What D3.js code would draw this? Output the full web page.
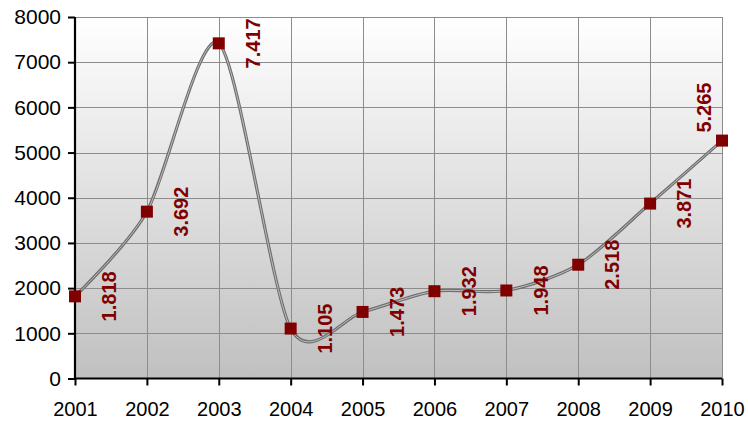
<!DOCTYPE html>
<html><head><meta charset="utf-8">
<script src="https://cdn.jsdelivr.net/npm/d3@7"></script>
<style>body{margin:0;background:#fff}svg{display:block}</style>
</head><body>
<svg id="c" width="748" height="422"></svg>
<script>
const years = ["2001","2002","2003","2004","2005","2006","2007","2008","2009","2010"];
const values = [1818, 3692, 7417, 1105, 1473, 1932, 1948, 2518, 3871, 5265];
const yTicks = [0,1000,2000,3000,4000,5000,6000,7000,8000];

const W = 748, H = 422;
const m = {left:75, right:26, top:17, bottom:43.5};
const svg = d3.select("#c");
const x = d3.scalePoint().domain(years).range([m.left, W - m.right]);
const y = d3.scaleLinear().domain([0, 8000]).range([H - m.bottom, m.top]);

const defs = svg.append("defs");
const g = defs.append("linearGradient").attr("id","bg").attr("x1",0).attr("y1",0).attr("x2",0).attr("y2",1);
g.append("stop").attr("offset","0%").attr("stop-color","#ffffff");
g.append("stop").attr("offset","100%").attr("stop-color","#c0c0c0");

svg.append("rect").attr("x", m.left).attr("y", m.top)
  .attr("width", W - m.right - m.left).attr("height", H - m.bottom - m.top)
  .attr("fill","url(#bg)");

// grid
svg.append("g").selectAll("line").data(yTicks.slice(1)).join("line")
  .attr("x1", m.left).attr("x2", W - m.right)
  .attr("y1", d => Math.round(y(d)) + 0.5).attr("y2", d => Math.round(y(d)) + 0.5)
  .attr("stroke","#8c8c8c").attr("stroke-width",1);
svg.append("g").selectAll("line").data(years.slice(1)).join("line")
  .attr("x1", d => Math.round(x(d)) + 0.5).attr("x2", d => Math.round(x(d)) + 0.5)
  .attr("y1", m.top).attr("y2", H - m.bottom)
  .attr("stroke","#8c8c8c").attr("stroke-width",1);

// axes
const yAxis = svg.append("g").attr("transform",`translate(${m.left},0)`)
  .call(d3.axisLeft(y).tickValues(yTicks).tickSize(7).tickPadding(7).tickFormat(d3.format("d")));
const xAxis = svg.append("g").attr("transform",`translate(0,${H - m.bottom})`)
  .call(d3.axisBottom(x).tickSize(7).tickPadding(16));
[yAxis, xAxis].forEach(a => {
  a.select(".domain").attr("stroke","#000").attr("stroke-width",2.2);
  a.selectAll(".tick line").attr("stroke","#000").attr("stroke-width",2);
  a.selectAll("text").attr("font-family","Liberation Sans, Arial, sans-serif")
    .attr("font-size",20).attr("fill","#000");
});
yAxis.selectAll("text").attr("font-size",21);
yAxis.select(".domain").attr("d", `M0,${m.top}V${H - m.bottom}`);
xAxis.select(".domain").attr("d", `M${m.left},0H${W - m.right}`);

// line (smoothed, Excel-like)
const pts = years.map((yr,i) => [x(yr), y(values[i])]);
const line = d3.line().curve(d3.curveCardinal.tension(0.2));
svg.append("path").attr("d", line(pts)).attr("fill","none")
  .attr("stroke","#6e6e6e").attr("stroke-width",3.2);
svg.append("path").attr("d", line(pts)).attr("fill","none")
  .attr("stroke","#bdbdbd").attr("stroke-width",1);

// markers
svg.append("g").selectAll("rect").data(pts).join("rect")
  .attr("x", d => d[0] - 6).attr("y", d => d[1] - 6)
  .attr("width",12).attr("height",12).attr("fill","#800000");

// labels
const fmt = d3.formatLocale({decimal:",", thousands:".", grouping:[3], currency:["",""]}).format(",");
svg.append("g").selectAll("text").data(pts).join("text")
  .attr("transform", (d,i) => {
    let lx = d[0] + 34, ly = d[1];
    if (lx + 10 > W) { lx = d[0] - 18; ly = d[1] - 33; }
    return `translate(${lx},${ly}) rotate(-90)`;
  })
  .attr("text-anchor","middle").attr("dy","0.36em")
  .attr("font-family","Liberation Sans, Arial, sans-serif")
  .attr("font-size",20).attr("font-weight","bold").attr("fill","#800000")
  .text((d,i) => fmt(values[i]));
</script>
</body></html>
